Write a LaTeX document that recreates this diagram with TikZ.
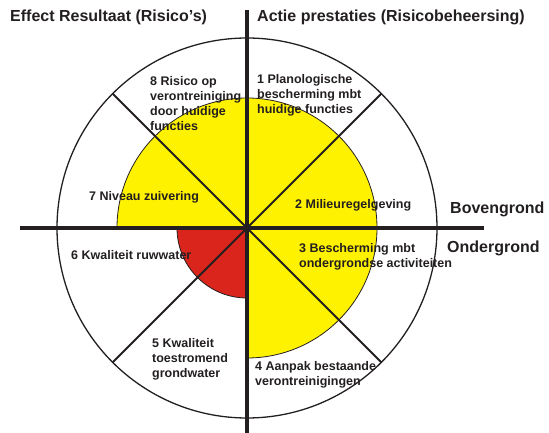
\documentclass[tikz,border=0pt]{standalone}
\usepackage{fontspec}
\setmainfont{Liberation Sans}
\usetikzlibrary{positioning}
\definecolor{riskyellow}{RGB}{255,242,0}
\definecolor{riskred}{RGB}{218,37,29}
\definecolor{ink}{RGB}{35,31,32}
\tikzset{
    heading/.style = {
        anchor=west,
        inner sep=0pt,
        font=\fontsize{16}{19}\selectfont\bfseries,
        text=ink
    },
    sector/.style = {
        anchor=west,
        inner sep=0pt,
        align=left,
        font=\fontsize{12.5}{15}\selectfont\bfseries,
        text=ink
    },
    axis/.style = {
        draw=ink,
        line width=4pt
    },
    spoke/.style = {
        draw=ink,
        line width=2pt
    },
    ring/.style = {
        draw=ink,
        line width=1.3pt
    },
    level/.style = {
        draw=ink,
        line width=0.8pt
    },
}

\begin{document}
\begin{tikzpicture}[x=1pt,y=1pt]
            \useasboundingbox (-247,-205) rectangle (302,228);
            \coordinate (c) at (0,0);

            % risk levels
            \path[level, fill=riskyellow] (c) -- (130,0) arc[start angle=0, end angle=180, radius=130] -- cycle;
            \path[level, fill=riskyellow] (c) -- (0,-130) arc[start angle=270, end angle=360, radius=130] -- cycle;
            \path[level, fill=riskred] (c) -- (-70,0) arc[start angle=180, end angle=270, radius=70] -- cycle;

            % ring and spokes
            \path[ring] (c) circle[radius=190];
            \foreach \a in {45,135,225,315}
                \path[spoke] (c) -- (\a:190);

            % axes
            \coordinate (top) at (0,218);
            \coordinate (bottom) at (0,-205);
            \coordinate (left) at (-227,0);
            \coordinate (right) at (237,0);
            \path[axis] (left) -- (right);
            \path[axis] (top) -- (bottom);

            \node[heading] (effect) at (-237,211) {Effect Resultaat (Risico’s)};
            \node[heading] (actie) at (10,211) {Actie prestaties (Risicobeheersing)};
            \node[heading] (boven) at (203,19) {Bovengrond};
            \node[heading] (onder) at (200,-20) {Ondergrond};

            \node[sector] (s1) at (10,133) {1 Planologische\\bescherming mbt\\huidige functies};
            \node[sector] (s2) at (48,23) {2 Milieuregelgeving};
            \node[sector] (s3) at (52,-29) {3 Bescherming mbt\\ondergrondse activiteiten};
            \node[sector] (s4) at (8,-147) {4 Aanpak bestaande\\verontreinigingen};
            \node[sector] (s5) at (-95,-131) {5 Kwaliteit\\toestromend\\grondwater};
            \node[sector] (s6) at (-176,-27) {6 Kwaliteit ruwwater};
            \node[sector] (s7) at (-158,31) {7 Niveau zuivering};
            \node[sector] (s8) at (-97,124) {8 Risico op\\verontreiniging\\door huidige\\functies};
\end{tikzpicture}
\end{document}
